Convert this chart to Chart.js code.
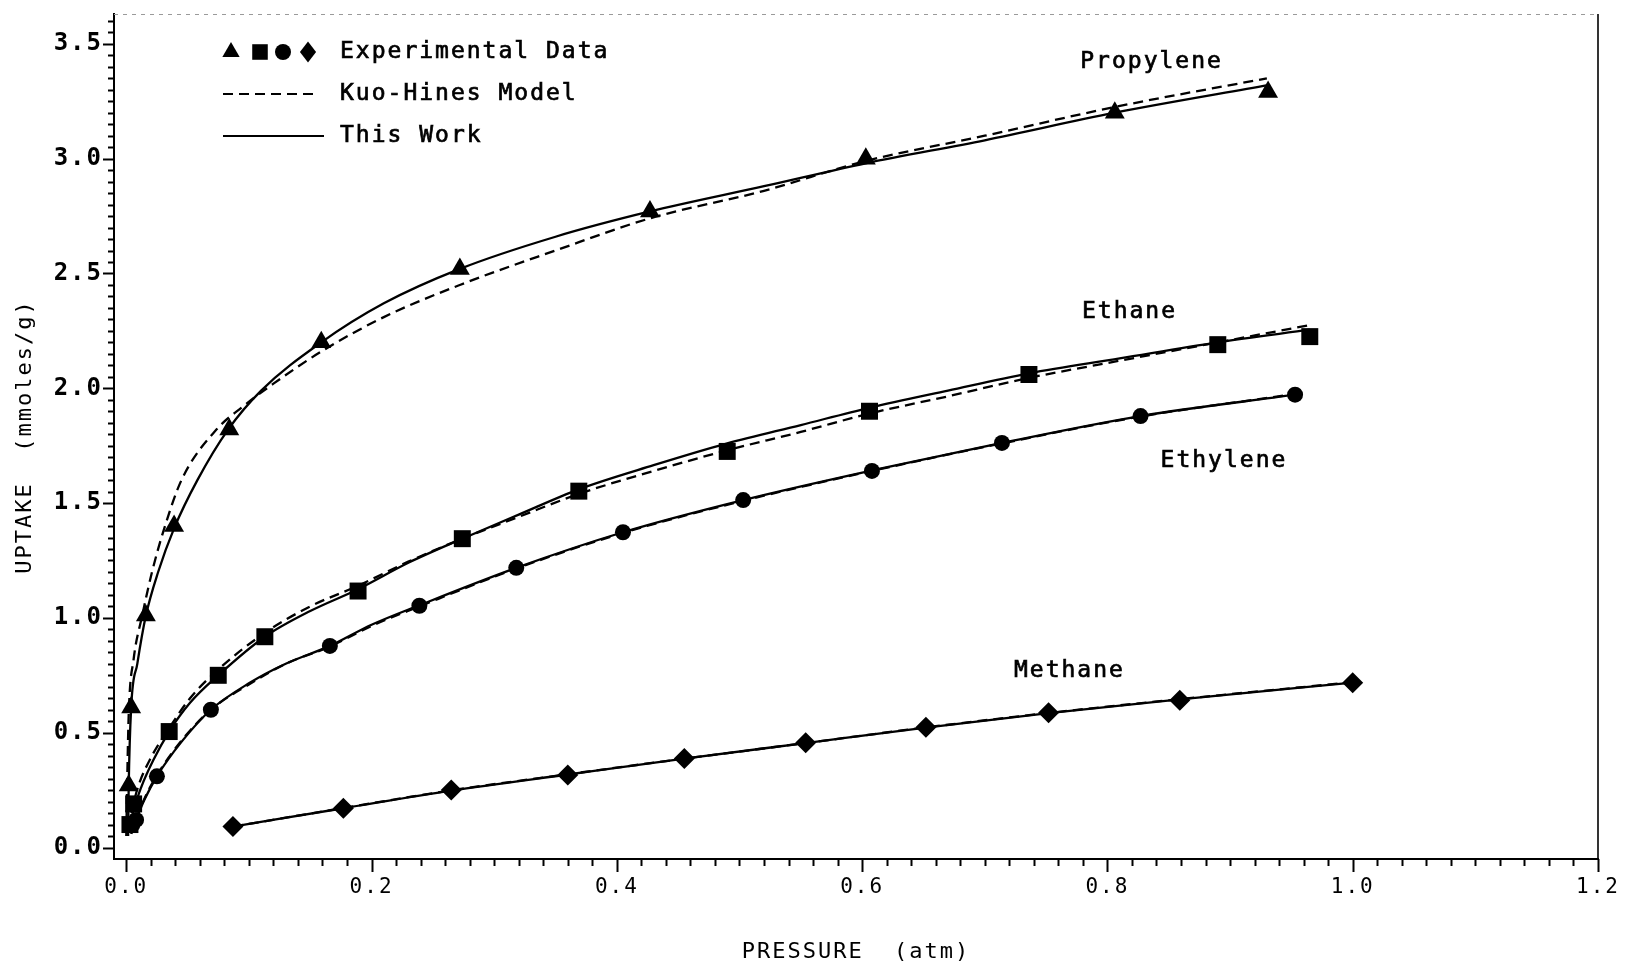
<!DOCTYPE html>
<html>
<head>
<meta charset="utf-8">
<script src="https://cdn.jsdelivr.net/npm/chart.js@4.4.1/dist/chart.umd.min.js"></script>
<style>
  html, body { margin: 0; padding: 0; background: #fff; }
  #wrap { width: 1627px; height: 967px; }
</style>
</head>
<body>
<div id="wrap"><canvas id="chart" width="1627" height="967"></canvas></div>
<script>
// ---- Experimental uptake data (pressure in atm, uptake in mmoles/g) ----
const propyleneExpP = [0.002, 0.004, 0.016, 0.039, 0.084, 0.159, 0.272, 0.427, 0.603, 0.806, 0.931];
const propyleneExpU = [0.27, 0.61, 1.01, 1.40, 1.82, 2.20, 2.52, 2.77, 3.00, 3.20, 3.29];

const ethaneExpP = [0.003, 0.006, 0.035, 0.075, 0.113, 0.189, 0.274, 0.369, 0.490, 0.606, 0.736, 0.890, 0.965];
const ethaneExpU = [0.10, 0.19, 0.505, 0.75, 0.918, 1.117, 1.345, 1.552, 1.725, 1.90, 2.06, 2.19, 2.225];

const ethyleneExpP = [0.005, 0.008, 0.025, 0.069, 0.166, 0.239, 0.318, 0.405, 0.503, 0.608, 0.714, 0.827, 0.953];
const ethyleneExpU = [0.10, 0.12, 0.31, 0.60, 0.878, 1.053, 1.218, 1.373, 1.513, 1.64, 1.762, 1.879, 1.972];

const methaneExpP = [0.087, 0.177, 0.265, 0.360, 0.455, 0.554, 0.652, 0.752, 0.859, 1.000];
const methaneExpU = [0.091, 0.171, 0.251, 0.316, 0.388, 0.456, 0.524, 0.587, 0.641, 0.718];

// ---- "This Work" model curves ----
const propyleneFitP = [0.0015, 0.002, 0.004, 0.009, 0.016, 0.026, 0.039, 0.058, 0.083, 0.110, 0.159, 0.210, 0.272, 0.350, 0.427, 0.520, 0.603, 0.700, 0.806, 0.931];
const propyleneFitU = [0.05, 0.27, 0.61, 0.80, 1.01, 1.20, 1.39, 1.60, 1.82, 1.99, 2.20, 2.37, 2.52, 2.66, 2.77, 2.88, 2.98, 3.08, 3.20, 3.32];

const ethaneFitP = [0.003, 0.006, 0.012, 0.022, 0.035, 0.052, 0.075, 0.113, 0.150, 0.189, 0.230, 0.274, 0.320, 0.369, 0.430, 0.490, 0.550, 0.606, 0.670, 0.736, 0.810, 0.890, 0.965];
const ethaneFitU = [0.08, 0.16, 0.26, 0.38, 0.505, 0.63, 0.75, 0.918, 1.03, 1.125, 1.24, 1.345, 1.45, 1.56, 1.665, 1.76, 1.84, 1.915, 1.99, 2.065, 2.13, 2.20, 2.255];

const ethyleneFitP = [0.004, 0.008, 0.015, 0.025, 0.045, 0.069, 0.100, 0.130, 0.166, 0.200, 0.239, 0.318, 0.405, 0.503, 0.608, 0.714, 0.827, 0.953];
const ethyleneFitU = [0.06, 0.12, 0.21, 0.31, 0.46, 0.60, 0.715, 0.80, 0.878, 0.97, 1.055, 1.218, 1.373, 1.513, 1.642, 1.762, 1.879, 1.972];

const methaneFitP = [0.087, 0.177, 0.265, 0.360, 0.455, 0.554, 0.652, 0.752, 0.859, 1.000];
const methaneFitU = [0.091, 0.171, 0.248, 0.318, 0.387, 0.455, 0.522, 0.585, 0.645, 0.718];

// ---- Kuo-Hines model curves ----
const propyleneKhP = [0.0, 0.0008, 0.002, 0.006, 0.013, 0.021, 0.031, 0.045, 0.0735, 0.095, 0.120, 0.159, 0.210, 0.272, 0.350, 0.427, 0.520, 0.603, 0.700, 0.806, 0.930];
const propyleneKhU = [0.05, 0.30, 0.58, 0.82, 1.01, 1.20, 1.39, 1.60, 1.82, 1.92, 2.02, 2.16, 2.31, 2.45, 2.60, 2.74, 2.86, 2.99, 3.10, 3.225, 3.35];

const ethaneKhP = [0.002, 0.005, 0.010, 0.020, 0.035, 0.052, 0.075, 0.113, 0.150, 0.189, 0.230, 0.274, 0.320, 0.369, 0.430, 0.490, 0.550, 0.606, 0.670, 0.736, 0.810, 0.890, 0.965];
const ethaneKhU = [0.08, 0.17, 0.27, 0.39, 0.52, 0.65, 0.775, 0.935, 1.05, 1.14, 1.245, 1.345, 1.44, 1.54, 1.64, 1.73, 1.81, 1.89, 1.965, 2.045, 2.12, 2.20, 2.275];

const ethyleneKhP = [0.004, 0.008, 0.015, 0.025, 0.045, 0.069, 0.100, 0.130, 0.166, 0.200, 0.239, 0.318, 0.405, 0.503, 0.608, 0.714, 0.827, 0.953];
const ethyleneKhU = [0.06, 0.125, 0.215, 0.315, 0.465, 0.60, 0.71, 0.80, 0.875, 0.965, 1.05, 1.215, 1.37, 1.51, 1.64, 1.76, 1.877, 1.975];

const methaneKhP = [0.087, 0.177, 0.265, 0.360, 0.455, 0.554, 0.652, 0.752, 0.859, 1.000];
const methaneKhU = [0.091, 0.172, 0.249, 0.319, 0.387, 0.455, 0.523, 0.586, 0.646, 0.720];

// ---- Axis tick labels ----
const xTickLabels = ['0.0', '0.2', '0.4', '0.6', '0.8', '1.0', '1.2'];
const yTickLabels = ['0.0', '0.5', '1.0', '1.5', '2.0', '2.5', '3.0', '3.5'];

// ---- Text ----
const legendTexts = ['Experimental Data', 'Kuo-Hines Model', 'This Work'];
const curveNames = ['Propylene', 'Ethane', 'Ethylene', 'Methane'];
const curveNameAt = [[0.836, 3.42], [0.818, 2.332], [0.895, 1.683], [0.769, 0.77]];

const FONT = "'DejaVu Sans Mono', 'Liberation Mono', monospace";
const zip = (xs, ys) => xs.map((v, i) => ({ x: v, y: ys[i] }));

function expSet(label, xs, ys, style, r) {
  return {
    label, data: zip(xs, ys), showLine: false, order: 0,
    pointStyle: style, pointRadius: r, pointHoverRadius: r,
    pointBackgroundColor: '#000', pointBorderColor: '#000', pointBorderWidth: 0
  };
}
function curveSet(label, xs, ys, dashed) {
  return {
    label, data: zip(xs, ys), showLine: true, order: dashed ? 2 : 1,
    borderColor: '#000', borderWidth: 2.3, borderDash: dashed ? [10, 6] : [],
    cubicInterpolationMode: 'monotone', pointRadius: 0, pointHoverRadius: 0, fill: false
  };
}

const datasets = [
  expSet('Propylene', propyleneExpP, propyleneExpU, 'triangle', 11.5),
  expSet('Ethane', ethaneExpP, ethaneExpU, 'rect', 12),
  expSet('Ethylene', ethyleneExpP, ethyleneExpU, 'circle', 8),
  expSet('Methane', methaneExpP, methaneExpU, 'rectRot', 10.5),
  curveSet('Propylene - This Work', propyleneFitP, propyleneFitU, false),
  curveSet('Ethane - This Work', ethaneFitP, ethaneFitU, false),
  curveSet('Ethylene - This Work', ethyleneFitP, ethyleneFitU, false),
  curveSet('Methane - This Work', methaneFitP, methaneFitU, false),
  curveSet('Propylene - Kuo-Hines', propyleneKhP, propyleneKhU, true),
  curveSet('Ethane - Kuo-Hines', ethaneKhP, ethaneKhU, true),
  curveSet('Ethylene - Kuo-Hines', ethyleneKhP, ethyleneKhU, true),
  curveSet('Methane - Kuo-Hines', methaneKhP, methaneKhU, true)
];

const near = (v, step) => Math.abs(v / step - Math.round(v / step)) < 1e-6;

// Filled text with a thin outline, for the slightly heavy plotter pen
function penText(ctx, text, px, py) {
  ctx.fillText(text, px, py);
  ctx.strokeText(text, px, py);
}

// Plotter-style lettering, frame and tick marks
const plotterStyle = {
  id: 'plotterStyle',
  beforeDraw(chart) {
    chart.ctx.letterSpacing = '2px';
  },
  afterDraw(chart) {
    const { ctx, chartArea: a, scales: { x, y } } = chart;
    ctx.save();
    ctx.strokeStyle = '#000';
    ctx.lineCap = 'butt';

    // tick marks: long at labelled values, short in between
    ctx.lineWidth = 2;
    y.ticks.forEach(t => {
      if (t.value < -1e-9 || t.value > 3.6 + 1e-9) return;
      const p = Math.round(y.getPixelForValue(t.value)) + 0.5;
      const len = near(t.value, 0.5) ? 11 : 6;
      ctx.beginPath(); ctx.moveTo(a.left, p); ctx.lineTo(a.left - len, p); ctx.stroke();
    });
    x.ticks.forEach(t => {
      if (t.value < -1e-9 || t.value > 1.2 + 1e-9) return;
      const p = Math.round(x.getPixelForValue(t.value)) + 0.5;
      const len = near(t.value, 0.2) ? 13 : 7;
      ctx.beginPath(); ctx.moveTo(p, a.bottom); ctx.lineTo(p, a.bottom + len); ctx.stroke();
    });

    // right frame edge
    ctx.lineWidth = 1.6;
    ctx.beginPath(); ctx.moveTo(a.right, a.top); ctx.lineTo(a.right, a.bottom); ctx.stroke();
    // faint top frame edge
    ctx.strokeStyle = '#9a9a9a';
    ctx.lineWidth = 1;
    ctx.setLineDash([4, 5]);
    ctx.beginPath(); ctx.moveTo(a.left, a.top + 0.5); ctx.lineTo(a.right, a.top + 0.5); ctx.stroke();
    ctx.setLineDash([]);

    // curve names
    ctx.fillStyle = '#000';
    ctx.strokeStyle = '#000';
    ctx.lineWidth = 0.7;
    ctx.letterSpacing = '2px';
    ctx.font = '23px ' + FONT;
    ctx.textAlign = 'center';
    ctx.textBaseline = 'middle';
    curveNames.forEach((name, i) => {
      const [vx, vy] = curveNameAt[i];
      penText(ctx, name, x.getPixelForValue(vx), y.getPixelForValue(vy));
    });

    // legend
    const lx = a.left, ty = a.top;
    const rows = [ty + 38, ty + 80, ty + 122];
    drawMarker(ctx, 'triangle', lx + 117, rows[0], 10);
    drawMarker(ctx, 'rect', lx + 146, rows[0], 11);
    drawMarker(ctx, 'circle', lx + 169, rows[0], 8);
    drawMarker(ctx, 'rectRot', lx + 194, rows[0], 9.5);
    ctx.lineWidth = 2;
    ctx.setLineDash([10, 6]);
    ctx.beginPath(); ctx.moveTo(lx + 109, rows[1]); ctx.lineTo(lx + 204, rows[1]); ctx.stroke();
    ctx.setLineDash([]);
    ctx.beginPath(); ctx.moveTo(lx + 109, rows[2]); ctx.lineTo(lx + 210, rows[2]); ctx.stroke();
    ctx.lineWidth = 0.7;
    ctx.textAlign = 'left';
    legendTexts.forEach((t, i) => penText(ctx, t, lx + 226, rows[i]));
    ctx.restore();
  }
};

function drawMarker(ctx, style, cx, cy, r) {
  ctx.save();
  ctx.fillStyle = '#000';
  ctx.beginPath();
  if (style === 'triangle') {
    for (let k = 0; k < 3; k++) {
      const ang = k * 2 * Math.PI / 3;
      const px = cx + Math.sin(ang) * r, py = cy - Math.cos(ang) * r;
      k === 0 ? ctx.moveTo(px, py) : ctx.lineTo(px, py);
    }
    ctx.closePath();
  } else if (style === 'rect') {
    const s = r * Math.SQRT1_2;
    ctx.rect(cx - s, cy - s, 2 * s, 2 * s);
  } else if (style === 'circle') {
    ctx.arc(cx, cy, r, 0, Math.PI * 2);
  } else {
    ctx.moveTo(cx, cy - r * 1.1); ctx.lineTo(cx + r * 0.85, cy);
    ctx.lineTo(cx, cy + r * 1.1); ctx.lineTo(cx - r * 0.85, cy);
    ctx.closePath();
  }
  ctx.fill();
  ctx.restore();
}

new Chart(document.getElementById('chart'), {
  type: 'scatter',
  data: { datasets },
  options: {
    responsive: false,
    animation: false,
    devicePixelRatio: 1,
    layout: { padding: { left: 0, right: 29, top: 14, bottom: 0 } },
    plugins: { legend: { display: false }, tooltip: { enabled: false } },
    scales: {
      x: {
        type: 'linear', min: -0.01, max: 1.2,
        afterFit(s) { s.height = 108; s.paddingLeft = 0; s.paddingRight = 0; },
        afterBuildTicks(s) {
          const t = [];
          for (let i = 0; i <= 60; i++) t.push({ value: Math.round(i * 2) / 100 });
          s.ticks = t;
        },
        grid: { display: false },
        border: { display: true, color: '#000', width: 2 },
        ticks: {
          autoSkip: false, maxRotation: 0, padding: 8, color: '#000',
          font: { family: FONT, size: 21 },
          callback(v) { return near(v, 0.2) ? xTickLabels[Math.round(v / 0.2)] : ''; }
        },
        title: {
          display: true, text: 'PRESSURE  (atm)', color: '#000',
          font: { family: FONT, size: 22 }, padding: { top: 0, bottom: 2 }
        }
      },
      y: {
        type: 'linear', min: -0.05, max: 3.63,
        afterFit(s) { s.width = 114; s.paddingTop = 0; s.paddingBottom = 0; },
        afterBuildTicks(s) {
          const t = [];
          for (let i = 0; i <= 72; i++) t.push({ value: Math.round(i * 5) / 100 });
          s.ticks = t;
        },
        grid: { display: false },
        border: { display: true, color: '#000', width: 2 },
        ticks: {
          autoSkip: false, padding: 3, color: '#000',
          font: { family: FONT, size: 24, weight: 'bold' },
          callback(v) { return near(v, 0.5) ? yTickLabels[Math.round(v / 0.5)] : ''; }
        },
        title: {
          display: true, text: 'UPTAKE  (mmoles/g)', color: '#000',
          font: { family: FONT, size: 22 }, padding: { top: 12, bottom: 0 }
        }
      }
    }
  },
  plugins: [plotterStyle]
});
</script>
</body>
</html>
